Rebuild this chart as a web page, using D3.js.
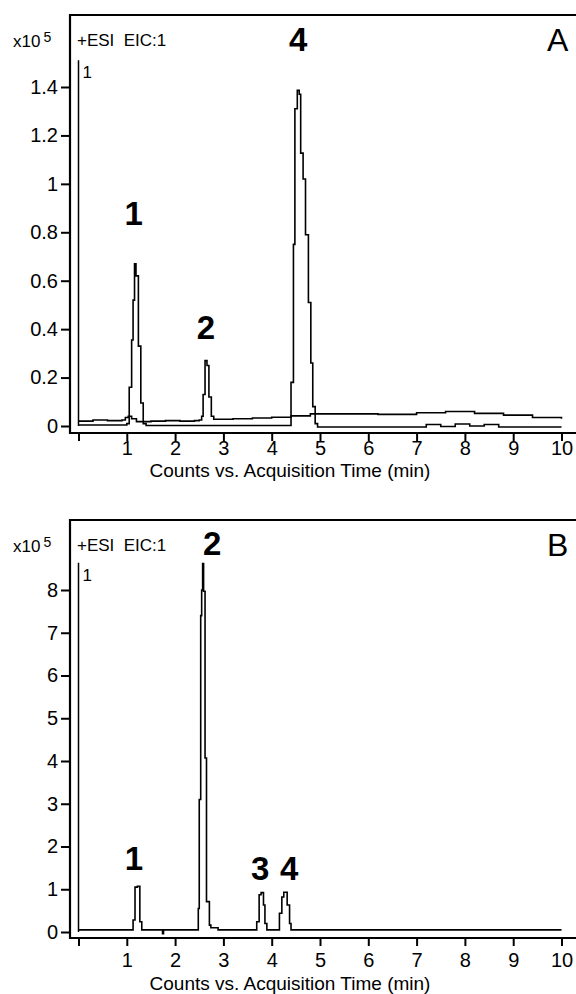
<!DOCTYPE html>
<html lang="en">
<head>
<meta charset="utf-8">
<title>EIC chromatograms</title>
<script src="https://cdn.jsdelivr.net/npm/d3@7"></script>
<style>
  body { margin: 0; background: #fff; }
  svg { display: block; font-family: "Liberation Sans", Arial, sans-serif; }
  .tick line { stroke: #000; stroke-width: 2; }
  .tick text { fill: #000; }
</style>
</head>
<body>
<div id="chart"></div>
<script>
// ---- data (time in min, counts in x10^5) ----
var xTicks = [0, 1, 2, 3, 4, 5, 6, 7, 8, 9, 10]
var yTicksA = [0, 0.2, 0.4, 0.6, 0.8, 1, 1.2, 1.4]
var yTicksB = [0, 1, 2, 3, 4, 5, 6, 7, 8]

// panel A, upper noisy trace (carries peak 2)
var traceA1 = [
  [0.0, 0.02], [0.3, 0.025], [0.6, 0.022], [0.9, 0.025], [0.97, 0.035], [1.03, 0.04],
  [1.1, 0.03], [1.2, 0.018], [1.5, 0.02], [1.8, 0.022], [2.1, 0.02], [2.4, 0.022],
  [2.5, 0.025], [2.55, 0.04], [2.58, 0.13], [2.62, 0.27], [2.66, 0.25], [2.7, 0.12],
  [2.75, 0.04], [2.8, 0.028], [3.2, 0.03], [3.6, 0.033], [4.0, 0.036], [4.4, 0.042],
  [4.8, 0.05], [5.5, 0.05], [6.2, 0.048], [7.0, 0.055], [7.6, 0.06], [8.2, 0.052],
  [8.8, 0.045], [9.4, 0.035], [10.0, 0.03]
]
// panel A, lower trace (peaks 1 and 4)
var traceA2 = [
  [0.0, 0.004], [0.9, 0.004], [1.0, 0.01], [1.05, 0.16], [1.1, 0.355], [1.13, 0.52],
  [1.16, 0.67], [1.19, 0.62], [1.24, 0.33], [1.29, 0.095], [1.34, 0.01], [1.4, 0.002],
  [4.35, 0.002], [4.4, 0.18], [4.45, 0.75], [4.48, 1.31], [4.53, 1.386], [4.57, 1.37],
  [4.6, 1.127], [4.65, 1.02], [4.7, 0.79], [4.76, 0.51], [4.81, 0.26], [4.85, 0.08],
  [4.9, 0.01], [4.95, -0.004], [6.9, -0.004], [7.2, 0.006], [7.5, -0.002], [7.8, 0.008],
  [8.1, 0.0], [8.4, 0.006], [8.7, -0.004], [10.0, -0.004]
]
// panel B, single trace (peaks 1-4)
var traceB = [
  [0.0, 0.05], [1.13, 0.28], [1.17, 1.05], [1.22, 1.07], [1.27, 0.24], [1.31, 0.05],
  [1.72, 0.05], [1.74, -0.04], [1.76, 0.05], [2.48, 0.55], [2.5, 3.1], [2.53, 7.4],
  [2.55, 8.0], [2.57, 8.62], [2.59, 7.97], [2.62, 4.07], [2.65, 0.71], [2.71, 0.16],
  [2.74, 0.1], [2.89, 0.05], [3.69, 0.24], [3.74, 0.87], [3.78, 0.92], [3.83, 0.63],
  [3.86, 0.2], [3.9, 0.05], [4.16, 0.44], [4.21, 0.82], [4.25, 0.93], [4.32, 0.63],
  [4.37, 0.2], [4.4, 0.05], [10.0, 0.05]
]
// peak labels: [label, time, value]
var peaksA = [["1", 1.14, 0.83], ["2", 2.64, 0.36], ["4", 4.55, 1.55]]
var peaksB = [["1", 1.15, 1.45], ["2", 2.77, 8.82], ["3", 3.76, 1.22], ["4", 4.36, 1.22]]
var scaleMarkA = 1.51
var scaleMarkB = 8.64

var W = 576, H = 994
var svg = d3.select("#chart").append("svg").attr("width", W).attr("height", H)

function drawPanel(p){
  var g = svg.append("g")
  var x = d3.scaleLinear().domain([0, 10]).range([78.5, 561.5])
  var y = d3.scaleLinear().domain([0, p.yMax]).range([p.y0, p.yTop])

  // y axis ticks
  var yAxis = d3.axisLeft(y).tickValues(p.yTicks).tickSize(9).tickPadding(3)
    .tickFormat(function(d){ return String(d) })
  g.append("g").attr("transform", "translate(70,0)").call(yAxis)
    .call(function(s){ s.select(".domain").remove() })
    .selectAll("text").attr("font-size", 20).attr("font-family", "Liberation Sans, Arial, sans-serif")

  // x axis ticks
  var xAxis = d3.axisBottom(x).tickValues(xTicks).tickSize(8).tickPadding(p.xPad)
    .tickFormat(function(d){ return d == 0 ? "" : d })
  g.append("g").attr("transform", "translate(0," + p.axisY + ")").call(xAxis)
    .call(function(s){ s.select(".domain").remove() })
    .selectAll("text").attr("font-size", 20).attr("font-family", "Liberation Sans, Arial, sans-serif")

  // frame: top, left, bottom
  g.append("path")
    .attr("d", "M576," + p.top + "H70V" + p.axisY + "H576")
    .attr("fill", "none").attr("stroke", "#000").attr("stroke-width", 2.2)

  // scale marker line at t = 0
  g.append("line")
    .attr("x1", x(0)).attr("x2", x(0))
    .attr("y1", y(p.mark)).attr("y2", y(0))
    .attr("stroke", "#000").attr("stroke-width", 1.5)
  g.append("text").attr("x", x(0) + 4).attr("y", y(p.mark) + 18)
    .attr("font-size", 17).text("1")

  var line = d3.line()
    .x(function(d){ return x(d[0]) })
    .y(function(d){ return y(d[1]) })
    .curve(d3.curveStepAfter)

  p.traces.forEach(function(t){
    g.append("path").datum(t)
      .attr("d", line)
      .attr("fill", "none").attr("stroke", "#000").attr("stroke-width", 1.6)
  })

  g.selectAll(".peak").data(p.peaks).enter().append("text")
    .attr("class", "peak")
    .attr("x", function(d){ return x(d[1]) })
    .attr("y", function(d){ return y(d[2]) })
    .attr("text-anchor", "middle")
    .attr("font-size", 33).attr("font-weight", "bold")
    .text(function(d){ return d[0] })

  // header texts
  var hx = g.append("text").attr("x", 13).attr("y", p.top + 32).attr("font-size", 17)
  hx.append("tspan").text("x10")
  hx.append("tspan").attr("dx", 3).attr("dy", -5).attr("font-size", 14).text("5")
  g.append("text").attr("x", 77).attr("y", p.top + 31).attr("font-size", 17)
    .attr("xml:space", "preserve").style("white-space", "pre").text("+ESI  EIC:1")
  g.append("text").attr("x", 547).attr("y", p.top + 36).attr("font-size", 32).text(p.letter)

  g.append("text")
    .attr("x", 290).attr("y", p.titleY)
    .attr("text-anchor", "middle").attr("font-size", 19)
    .text("Counts vs. Acquisition Time (min)")
}

drawPanel({ top: 15, y0: 426, yTop: 87, yMax: 1.4, yTicks: yTicksA, axisY: 433, xPad: 0,
  titleY: 477, traces: [traceA1, traceA2], peaks: peaksA, mark: scaleMarkA, letter: "A" })
drawPanel({ top: 520, y0: 932, yTop: 590, yMax: 8, yTicks: yTicksB, axisY: 938, xPad: 7,
  titleY: 990, traces: [traceB], peaks: peaksB, mark: scaleMarkB, letter: "B" })
</script>
</body>
</html>
